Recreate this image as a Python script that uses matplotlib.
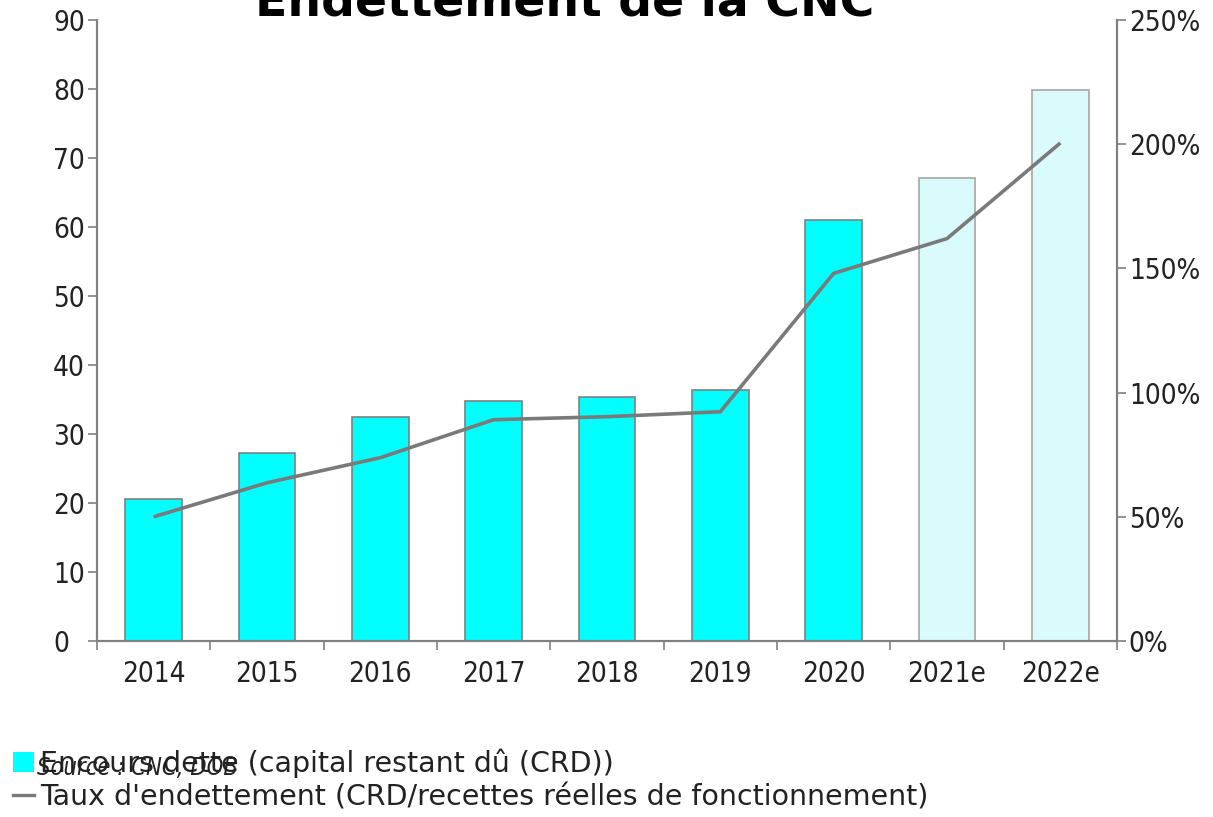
import matplotlib
matplotlib.use("Agg")
import matplotlib.pyplot as plt
from matplotlib.patches import Patch
from matplotlib.lines import Line2D
from matplotlib.ticker import FuncFormatter, FixedLocator

categories = ["2014", "2015", "2016", "2017", "2018", "2019", "2020", "2021e", "2022e"]
encours = [20.6, 27.3, 32.4, 34.8, 35.3, 36.4, 61.0, 67.1, 79.8]
taux = [50.0, 63.7, 73.8, 89.1, 90.3, 92.3, 148.0, 162.0, 200.5]
estimated = [False, False, False, False, False, False, False, True, True]

title = "Endettement de la CNC"
label_bar = "Encours dette (capital restant dû (CRD))"
label_line = "Taux d'endettement (CRD/recettes réelles de fonctionnement)"
source = "Source : CNC, DOB"

plt.rcParams["font.family"] = ["DejaVu Sans"]

W, H = 1213, 817
fig = plt.figure(figsize=(W / 100, H / 100), dpi=100)
ax = fig.add_axes([97 / W, 1 - 641 / H, (1117 - 97) / W, (641 - 20) / H])
ax2 = ax.twinx()

gray = "#808080"
x = list(range(len(categories)))
colors = ["#DAFBFB" if e else "#00FFFF" for e in estimated]
edges = ["#A6A6A6" if e else "#808080" for e in estimated]
ax.bar(x, encours, width=0.5, color=colors, edgecolor=edges, linewidth=1.2, zorder=2)
ax2.plot(x, taux, color="#7a7a7a", linewidth=2.6, zorder=3, solid_capstyle="butt")

ax.set_xlim(-0.5, len(categories) - 0.5)
ax.set_ylim(0, 90)
ax2.set_ylim(0, 250)
ax.set_yticks(range(0, 91, 10))
ax2.set_yticks(range(0, 251, 50))
ax2.yaxis.set_major_formatter(FuncFormatter(lambda v, p: f"{int(v)}%"))

ax.set_xticks(x)
ax.set_xticklabels(categories, fontstretch="condensed")
ax.xaxis.set_minor_locator(FixedLocator([i - 0.5 for i in range(len(categories) + 1)]))
ax.tick_params(axis="x", which="major", length=0, pad=14, labelsize=20, labelcolor="#222222")
ax.tick_params(axis="x", which="minor", length=6.5, width=1.2, color=gray, direction="out")
ax.tick_params(axis="y", length=6.5, width=1.2, color=gray, pad=25, labelsize=20, labelcolor="#222222")
ax2.tick_params(axis="y", length=6.5, width=1.2, color=gray, pad=2, labelsize=20, labelcolor="#222222")
for lab in ax.get_yticklabels():
    lab.set_horizontalalignment("left")
    lab.set_fontstretch("condensed")
for lab in ax2.get_yticklabels():
    lab.set_fontstretch("condensed")

for a in (ax, ax2):
    a.spines["top"].set_visible(False)
    for s in ("left", "right", "bottom"):
        a.spines[s].set_color(gray)
        a.spines[s].set_linewidth(1.5)
ax.set_zorder(ax2.get_zorder() - 1)
ax.patch.set_visible(True)
ax2.patch.set_visible(False)

fig.text(565 / W, 1 - 15 / H, title, ha="center", va="baseline", fontsize=34, fontweight="bold")

handles = [Patch(facecolor="#00FFFF", edgecolor="none"),
           Line2D([0], [0], color="#7a7a7a", linewidth=2.4)]
fig.legend(handles, [label_bar, label_line], loc="upper left",
           bbox_to_anchor=(13 / W, 1 - 748 / H), frameon=False, fontsize=20.5,
           borderaxespad=0, borderpad=0, handlelength=0.75, handleheight=0.7,
           handletextpad=0.2, labelspacing=0.2, labelcolor="#222222")
fig.text(37 / W, 1 - 775 / H, source, ha="left", va="baseline", fontsize=17,
         style="italic", fontstretch="condensed", color="#222222")

fig.savefig("out.png", dpi=100)
